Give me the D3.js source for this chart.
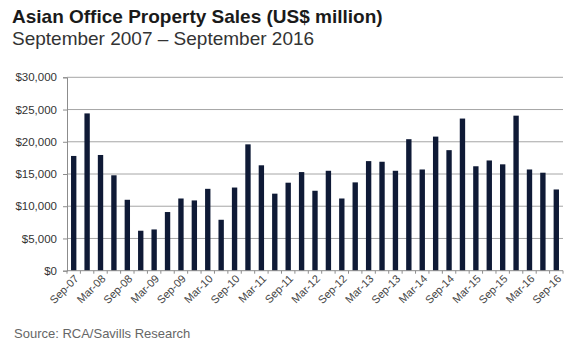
<!DOCTYPE html>
<html><head><meta charset="utf-8">
<script src="https://cdn.jsdelivr.net/npm/d3@7"></script>
<style>
body{margin:0;background:#fff;}
svg{display:block;font-family:"Liberation Sans",Arial,sans-serif;}
</style></head>
<body><svg id="c" width="580" height="352"></svg>
<script>
const quarters = ["Sep-07","Dec-07","Mar-08","Jun-08","Sep-08","Dec-08","Mar-09","Jun-09","Sep-09","Dec-09","Mar-10","Jun-10","Sep-10","Dec-10","Mar-11","Jun-11","Sep-11","Dec-11","Mar-12","Jun-12","Sep-12","Dec-12","Mar-13","Jun-13","Sep-13","Dec-13","Mar-14","Jun-14","Sep-14","Dec-14","Mar-15","Jun-15","Sep-15","Dec-15","Mar-16","Jun-16","Sep-16"];
const sales = [17800,24400,17950,14800,11000,6200,6400,9100,11200,10900,12700,7900,12900,19600,16350,11950,13650,15300,12400,15500,11200,13700,17000,16900,15500,20400,15700,20800,18700,23600,16200,17100,16500,24050,15700,15200,12600];
const yTicks = [0,5000,10000,15000,20000,25000,30000];

const svg = d3.select("#c");
const m = {l:67, r:563, t:77.3, b:270.7};
const x = d3.scaleBand().domain(quarters).range([m.l, m.r]).paddingInner(0.6).paddingOuter(0.3);
const y = d3.scaleLinear().domain([0,30000]).range([m.b, m.t]);

svg.append("text").attr("x",12).attr("y",23).attr("font-size",19).attr("font-weight","bold").attr("fill","#1a1a1a")
  .text("Asian Office Property Sales (US$ million)");
svg.append("text").attr("x",12).attr("y",45).attr("font-size",19).attr("fill","#333")
  .text("September 2007 – September 2016");

// gridlines
svg.append("g").selectAll("line").data(yTicks.slice(1)).join("line")
  .attr("x1",m.l).attr("x2",m.r).attr("y1",d=>y(d)).attr("y2",d=>y(d))
  .attr("stroke","#a6a6a6").attr("stroke-width",1);

// y axis
const yAxis = svg.append("g").attr("transform",`translate(${m.l},0)`)
  .call(d3.axisLeft(y).tickValues(yTicks).tickSize(4).tickPadding(6).tickFormat(d=>"$"+d3.format(",")(d)));
yAxis.select(".domain").attr("stroke","#8c8c8c");
yAxis.selectAll(".tick line").attr("stroke","#8c8c8c");
yAxis.selectAll("text").attr("font-size",11.5).attr("fill","#333").attr("font-family","Liberation Sans, Arial, sans-serif");

// bars
svg.append("g").selectAll("rect").data(quarters).join("rect")
  .attr("x",(d)=>x(d)).attr("width",x.bandwidth())
  .attr("y",(d,i)=>y(sales[i])).attr("height",(d,i)=>y(0)-y(sales[i]))
  .attr("fill","#0f1a36");

// x axis
const xg = svg.append("g");
xg.append("line").attr("x1",m.l).attr("x2",m.r).attr("y1",m.b).attr("y2",m.b).attr("stroke","#8c8c8c");
xg.selectAll("line.tk").data(d3.range(quarters.length+1)).join("line").attr("class","tk")
  .attr("x1",i=>m.l+i*(m.r-m.l)/quarters.length).attr("x2",i=>m.l+i*(m.r-m.l)/quarters.length)
  .attr("y1",m.b).attr("y2",m.b+3).attr("stroke","#8c8c8c");
xg.selectAll("text").data(quarters.filter((d,i)=>i%2===0)).join("text")
  .attr("transform",d=>`translate(${x(d)+x.bandwidth()/2+3},${m.b+6}) rotate(-45)`)
  .attr("text-anchor","end").attr("dy","0.35em")
  .attr("font-size",11).attr("fill","#444").text(d=>d);

svg.append("text").attr("x",14).attr("y",338).attr("font-size",13).attr("fill","#666")
  .text("Source: RCA/Savills Research");
</script></body></html>
